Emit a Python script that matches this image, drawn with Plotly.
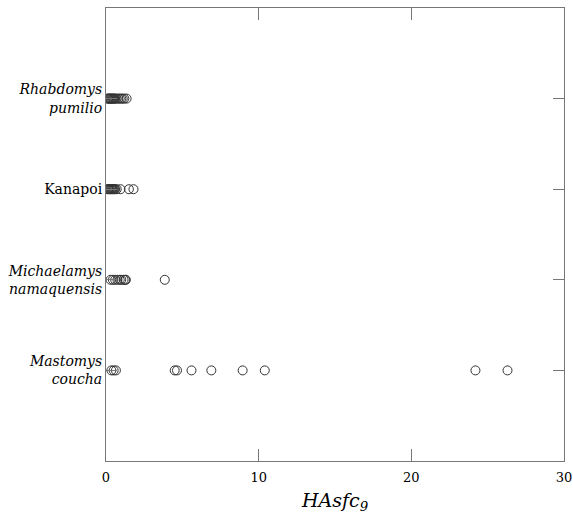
import plotly.graph_objects as go

categories = ["Mastomys coucha", "Michaelamys namaquensis", "Kanapoi", "Rhabdomys pumilio"]
tick_labels = ["<i>Mastomys</i><br><i>coucha</i>", "<i>Michaelamys</i><br><i>namaquensis</i>",
               "Kanapoi", "<i>Rhabdomys</i><br><i>pumilio</i>"]

mastomys = [0.35, 0.5, 0.65, 4.5, 4.65, 5.6, 6.9, 8.95, 10.4, 24.2, 26.3]
michaelamys = [0.3, 0.45, 0.6, 0.75, 0.9, 1.0, 1.15, 1.25, 1.3, 3.85]
kanapoi = [0.1, 0.15, 0.2, 0.25, 0.3, 0.35, 0.4, 0.45, 0.5, 0.55, 0.6, 0.7, 0.95, 1.5, 1.8]
rhabdomys = [0.1, 0.15, 0.2, 0.25, 0.3, 0.35, 0.4, 0.45, 0.5, 0.55, 0.6, 0.7, 0.8, 0.9, 1.0, 1.1, 1.2, 1.35]

series = [mastomys, michaelamys, kanapoi, rhabdomys]

fig = go.Figure()
for i, vals in enumerate(series):
    fig.add_trace(go.Scatter(
        x=vals, y=[i] * len(vals), mode="markers",
        marker=dict(symbol="circle-open", size=9, color="#333", line=dict(width=1, color="#333")),
        showlegend=False, name=categories[i]))

font = "DejaVu Serif"
fig.update_layout(
    width=573, height=517,
    margin=dict(l=106, r=9, t=8, b=56, autoexpand=False),
    paper_bgcolor="white", plot_bgcolor="white",
    font=dict(family=font, size=14, color="black"),
    xaxis=dict(range=[0, 30], tickvals=[0, 10, 20, 30], ticks="inside", ticklen=12,
               tickcolor="#777", showline=True, linecolor="#777", linewidth=1, mirror="ticks",
               showgrid=False, zeroline=False, tickfont=dict(family=font, size=13),
               ticklabeloverflow="allow", automargin=False, ticklabelstandoff=4,
               title=dict(text="<i>HAsfc<sub>9</sub></i>", font=dict(family=font, size=19), standoff=10)),
    yaxis=dict(range=[-1, 4], tickvals=[0, 1, 2, 3], ticktext=tick_labels, ticks="inside",
               ticklen=11, tickcolor="#777", showline=True, linecolor="#777", linewidth=1,
               mirror="ticks", showgrid=False, zeroline=False, automargin=False,
               tickfont=dict(family=font, size=14)),
)
fig.write_html("out.html")
